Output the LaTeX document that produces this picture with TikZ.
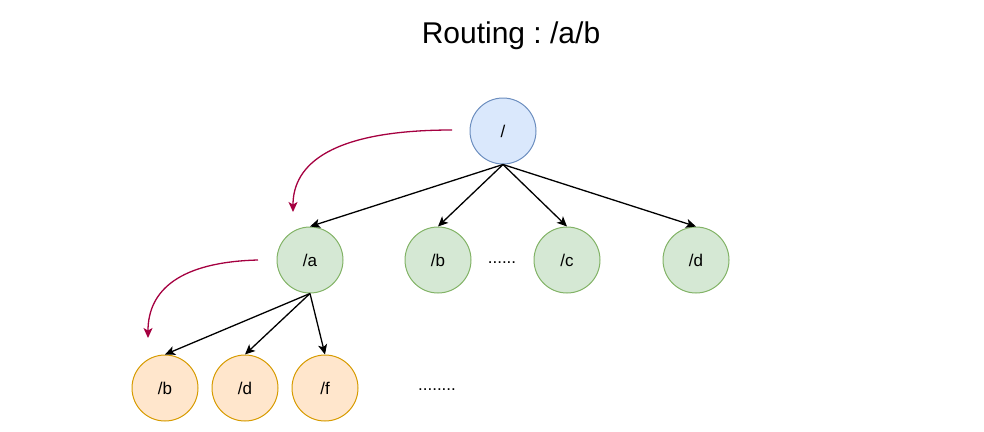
\documentclass[tikz,border=0pt]{standalone}
\usepackage{fontspec}
\setmainfont{Liberation Sans}
\usetikzlibrary{arrows.meta}
\definecolor{bluefill}{HTML}{DAE8FC}
\definecolor{bluedraw}{HTML}{6C8EBF}
\definecolor{greenfill}{HTML}{D5E8D4}
\definecolor{greendraw}{HTML}{82B366}
\definecolor{orangefill}{HTML}{FFE6CC}
\definecolor{orangedraw}{HTML}{D79B00}
\definecolor{crimson}{HTML}{A50040}
\tikzset{
  circ/.style={circle, minimum size=66pt, inner sep=0pt, line width=1pt, font=\fontsize{17}{19}\selectfont},
  rootnode/.style={circ, fill=bluefill, draw=bluedraw},
  midnode/.style={circ, fill=greenfill, draw=greendraw},
  leafnode/.style={circ, fill=orangefill, draw=orangedraw},
  edge/.style={draw=black, line width=1.3pt, -{Stealth[length=10pt,width=9pt,inset=2.5pt]}},
  route/.style={draw=crimson, line width=1.3pt, -{Stealth[length=10pt,width=9pt,inset=2.5pt]}},
  dots/.style={font=\fontsize{17}{19}\selectfont},
}
\begin{document}
\begin{tikzpicture}[x=1pt,y=-1pt]
\useasboundingbox (0,0) rectangle (984,431);
\node[font=\fontsize{30}{33}\selectfont] (title) at (511,36) {\frenchspacing Routing : /a/b};
\node[rootnode] (r) at (503,131) {/};
\node[midnode] (a) at (310,260) {/a};
\node[midnode] (b) at (438,260) {/b};
\node[midnode] (c) at (567,260) {/c};
\node[midnode] (d) at (696,260) {/d};
\node[leafnode] (ab) at (165,388) {/b};
\node[leafnode] (ad) at (245,388) {/d};
\node[leafnode] (af) at (325,388) {/f};
\node[dots] (dots1) at (502,263) {......};
\node[dots] (dots2) at (437,390) {........};
\draw[edge] (r.south) -- (a.north);
\draw[edge] (r.south) -- (b.north);
\draw[edge] (r.south) -- (c.north);
\draw[edge] (r.south) -- (d.north);
\draw[edge] (a.south) -- (ab.north);
\draw[edge] (a.south) -- (ad.north);
\draw[edge] (a.south) -- (af.north);
\coordinate (s1) at (452,130);
\coordinate (e1) at (293,212);
\coordinate (s2) at (258,260);
\coordinate (e2) at (148,338);
\draw[route] (s1) .. controls (330,130) and (293,165) .. (e1);
\draw[route] (s2) .. controls (180,262) and (148,290) .. (e2);
\end{tikzpicture}
\end{document}
